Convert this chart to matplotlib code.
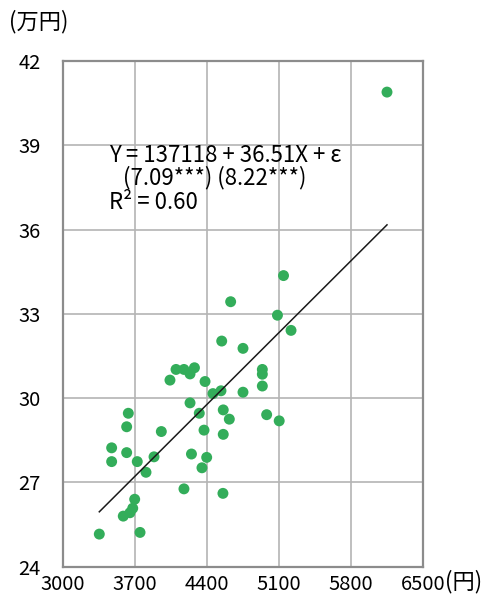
import matplotlib
matplotlib.use('Agg')
import matplotlib.pyplot as plt
import numpy as np

plt.rcParams['font.family'] = ['Noto Sans CJK JP', 'DejaVu Sans']

# price (yen) vs income (10k yen)
price = [3353, 3473, 3473, 3586, 3619, 3619, 3635, 3651, 3678, 3697,
         3722, 3749, 3807, 3885, 3956, 4040, 4099, 4176, 4176, 4235,
         4235, 4249, 4278, 4325, 4351, 4371, 4381, 4397, 4458, 4536,
         4543, 4558, 4558, 4555, 4617, 4630, 4750, 4750, 4938, 4938,
         4938, 4980, 5085, 5102, 5144, 5217, 6150]
income = [25.16, 28.23, 27.74, 25.80, 28.98, 28.06, 29.46, 25.92, 26.08, 26.40,
          27.74, 25.22, 27.36, 27.91, 28.81, 30.64, 31.02, 31.02, 26.77, 30.86,
          29.83, 28.01, 31.08, 29.46, 27.52, 28.86, 30.59, 27.89, 30.16, 30.26,
          32.03, 29.58, 28.71, 26.61, 29.25, 33.43, 31.77, 30.21, 31.02, 30.85,
          30.43, 29.41, 32.95, 29.19, 34.36, 32.41, 40.89]

# fitted line: Y = 137118 + 36.51X (yen), plotted in 10k yen
intercept = 137118
slope = 36.51
line_x = np.array([3353, 6150])
line_y = (intercept + slope * line_x) / 10000

xticks = [3000, 3700, 4400, 5100, 5800, 6500]
yticks = [24, 27, 30, 33, 36, 39, 42]

fig = plt.figure(figsize=(4.91, 6.0), dpi=100)
ax = fig.add_axes([0.1283, 0.0555, 0.7332, 0.843])

ax.grid(True, color='#b4b4b4', linewidth=1.2)
ax.set_axisbelow(True)
ax.scatter(price, income, s=62, color='#33ad5a', edgecolors='none', zorder=3)
ax.plot(line_x, line_y, color='#1a1a1a', linewidth=1.1, zorder=4)

ax.set_xlim(3000, 6500)
ax.set_ylim(24, 42)
ax.set_xticks(xticks)
ax.set_yticks(yticks)
ax.set_xticklabels([str(v) for v in xticks], fontsize=14.5)
ax.set_yticklabels([str(v) for v in yticks], fontsize=14.5)
ax.tick_params(axis='both', length=0)
ax.tick_params(axis='x', pad=5)
ax.tick_params(axis='y', pad=16)
for s in ax.spines.values():
    s.set_color('#8c8c8c')
    s.set_linewidth(1.6)

fig.text(9 / 491, 1 - 22 / 600, '(万円)', fontsize=16, ha='left', va='center')
fig.text(445 / 491, 1 - 582 / 600, '(円)', fontsize=16, ha='left', va='center')

ax.text(3450, 38.65, 'Y = 137118 + 36.51X + ε', fontsize=16, va='center', zorder=5)
ax.text(3580, 37.86, '(7.09***) (8.22***)', fontsize=16, va='center', zorder=5)
ax.text(3450, 36.97, 'R² = 0.60', fontsize=16, va='center', zorder=5)

fig.savefig('out.png', dpi=100)
